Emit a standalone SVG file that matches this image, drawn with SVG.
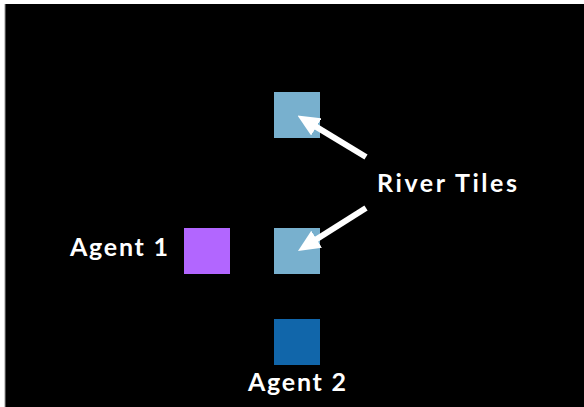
<svg xmlns="http://www.w3.org/2000/svg" width="584" height="407" viewBox="0 0 584 407">
<style>
.lbl{font-family:Lato,"Open Sans","Liberation Sans",sans-serif;font-weight:bold;font-size:25px;fill:#ffffff}
.arr{stroke:#ffffff;stroke-width:6;fill:none}
</style>
<defs>
<marker id="ah" markerUnits="userSpaceOnUse" viewBox="0 0 22 20" refX="2" refY="10" markerWidth="22" markerHeight="20" orient="auto">
<path d="M0,0 L22,10 L0,20 z" fill="#ffffff"/>
</marker>
</defs>
<rect x="0" y="0" width="584" height="407" fill="#ffffff"/>
<rect x="5" y="4" width="579" height="403" fill="#000000"/>
<line x1="5" y1="4" x2="5" y2="407" stroke="#999999" stroke-width="1"/>
<g id="river1"><rect x="274" y="92" width="46" height="46" fill="#78B0CE"/></g>
<g id="river2"><rect x="274" y="228" width="46" height="46" fill="#78B0CE"/></g>
<g id="agent1"><rect x="184" y="228" width="46" height="46" fill="#B266FF"/><text class="lbl" x="70" y="256" textLength="98" lengthAdjust="spacing">Agent 1</text></g>
<g id="agent2"><rect x="274" y="319" width="46" height="46" fill="#1166AA"/><text class="lbl" x="248" y="391" textLength="98" lengthAdjust="spacing">Agent 2</text></g>
<g id="rivertiles"><text class="lbl" x="377" y="192" textLength="140" lengthAdjust="spacing">River Tiles</text></g>
<g id="connectors">
<line class="arr" x1="366" y1="157" x2="314.6" y2="125.9" marker-end="url(#ah)"/>
<line class="arr" x1="366" y1="208" x2="314.9" y2="240.3" marker-end="url(#ah)"/>
</g>
</svg>
